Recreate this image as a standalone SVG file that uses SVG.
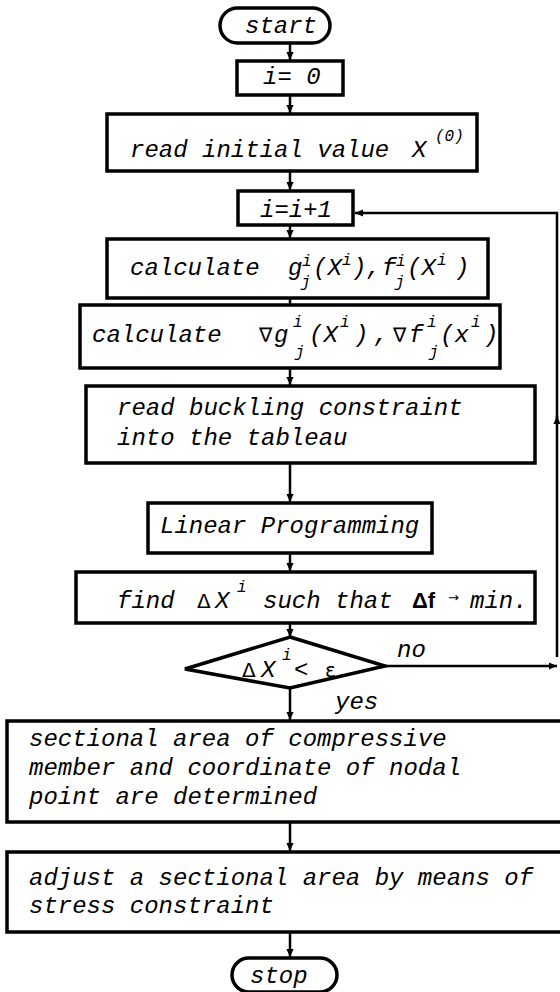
<svg xmlns="http://www.w3.org/2000/svg" width="560" height="992" viewBox="0 0 560 992">
<style>
.b{fill:#fff;stroke:#000;stroke-width:3.5}
.c{fill:none;stroke:#000;stroke-width:2.5}
.t{font-family:"Liberation Mono","DejaVu Sans Mono",monospace;font-style:italic;font-size:24px;fill:#000}
.s{font-family:"Liberation Mono","DejaVu Sans Mono",monospace;font-style:italic;font-size:16px;fill:#000}
.u{font-family:"DejaVu Sans","Liberation Sans",sans-serif;font-size:20px;fill:#000}
.bf{font-family:"Liberation Sans",sans-serif;font-weight:bold;font-size:22px;fill:#000}
</style>
<defs>
<marker id="ah" viewBox="0 0 10 10" refX="10" refY="5" markerWidth="9" markerHeight="8" markerUnits="userSpaceOnUse" orient="auto"><path d="M0,0.5 L10,5 L0,9.5 z" fill="#000"/></marker>
</defs>
<g id="connectors">
<path class="c" d="M290,43 V60" marker-end="url(#ah)"/>
<path class="c" d="M290,95 V113" marker-end="url(#ah)"/>
<path class="c" d="M290,171 V190" marker-end="url(#ah)"/>
<path class="c" d="M290,225 V238" marker-end="url(#ah)"/>
<path class="c" d="M290,298 V305"/>
<path class="c" d="M290,368 V385" marker-end="url(#ah)"/>
<path class="c" d="M290,463 V502" marker-end="url(#ah)"/>
<path class="c" d="M290,553 V571" marker-end="url(#ah)"/>
<path class="c" d="M290,623 V637" marker-end="url(#ah)"/>
<path class="c" d="M290,688 V720" marker-end="url(#ah)"/>
<path class="c" d="M290,822 V851" marker-end="url(#ah)"/>
<path class="c" d="M290,932 V957" marker-end="url(#ah)"/>
<path class="c" d="M385,666 H557" marker-end="url(#ah)"/>
<path class="c" d="M557,657 V416" marker-end="url(#ah)"/>
<path class="c" d="M557,420 V213 H355" marker-end="url(#ah)"/>
</g>
<g id="start">
<rect class="b" x="220" y="8" width="110" height="35" rx="17.5"/>
<text class="t" x="245" y="33">start</text>
</g>
<g id="init">
<rect class="b" x="237" y="61" width="106" height="34"/>
<text class="t" x="263" y="84">i= 0</text>
</g>
<g id="read-initial">
<rect class="b" x="107" y="114" width="370" height="57"/>
<text class="t" x="130" y="157">read initial value</text>
<text class="t" x="412" y="157">X</text>
<text class="s" x="435" y="141">(0)</text>
</g>
<g id="increment">
<rect class="b" x="238" y="191" width="115" height="34"/>
<text class="t" x="260" y="217">i=i+1</text>
</g>
<g id="calc-g">
<rect class="b" x="107" y="239" width="381" height="59"/>
<text class="t" x="130" y="275">calculate</text>
<text class="t" x="288" y="275">g</text>
<text class="s" x="302" y="266">i</text>
<text class="s" x="301" y="287">j</text>
<text class="t" x="313" y="275">(X</text>
<text class="s" x="342" y="265">i</text>
<text class="t" x="352" y="275">),</text>
<text class="t" x="382" y="275">f</text>
<text class="s" x="396" y="266">i</text>
<text class="s" x="395" y="287">j</text>
<text class="t" x="407" y="275">(X</text>
<text class="s" x="437" y="265">i</text>
<text class="t" x="455" y="275">)</text>
</g>
<g id="calc-grad">
<rect class="b" x="80" y="305" width="420" height="63"/>
<text class="t" x="92" y="342">calculate</text>
<text class="u" x="259" y="342">∇</text>
<text class="t" x="274" y="342">g</text>
<text class="s" x="293" y="327">i</text>
<text class="s" x="295" y="357">j</text>
<text class="t" x="309" y="342">(X</text>
<text class="s" x="340" y="327">i</text>
<text class="t" x="354" y="342">)</text>
<text class="t" x="374" y="342">,</text>
<text class="u" x="393" y="342">∇</text>
<text class="t" x="409" y="342">f</text>
<text class="s" x="427" y="327">i</text>
<text class="s" x="429" y="357">j</text>
<text class="t" x="440" y="342">(x</text>
<text class="s" x="471" y="327">i</text>
<text class="t" x="484" y="342">)</text>
</g>
<g id="buckling">
<rect class="b" x="86" y="386" width="449" height="77"/>
<text class="t" x="117" y="415">read buckling constraint</text>
<text class="t" x="117" y="445">into the tableau</text>
</g>
<g id="lp">
<rect class="b" x="148" y="503" width="284" height="50"/>
<text class="t" x="160" y="533">Linear Programming</text>
</g>
<g id="find">
<rect class="b" x="76" y="572" width="459" height="51"/>
<text class="t" x="117" y="608">find</text>
<text class="u" x="197" y="608">Δ</text>
<text class="t" x="215" y="608">X</text>
<text class="s" x="237" y="592">i</text>
<text class="t" x="263" y="608">such that</text>
<text class="bf" x="412" y="608">Δf</text>
<text class="u" x="448" y="602" style="font-size:13px">→</text>
<text class="t" x="470" y="608">min.</text>
</g>
<g id="decision">
<polygon class="b" points="290,637 385,666 290,688 185,669"/>
<text class="u" x="242" y="677">Δ</text>
<text class="t" x="261" y="677">X</text>
<text class="s" x="282" y="660">i</text>
<text class="t" x="294" y="677">&lt;</text>
<text class="u" x="325" y="677">ε</text>
<text class="t" x="397" y="657">no</text>
<text class="t" x="335" y="709">yes</text>
</g>
<g id="sectional">
<rect class="b" x="7" y="721" width="560" height="101"/>
<text class="t" x="29" y="746">sectional area of compressive</text>
<text class="t" x="29" y="775">member and coordinate of nodal</text>
<text class="t" x="29" y="804">point are determined</text>
</g>
<g id="adjust">
<rect class="b" x="7" y="852" width="560" height="80"/>
<text class="t" x="29" y="885">adjust a sectional area by means of</text>
<text class="t" x="29" y="913">stress constraint</text>
</g>
<g id="stop">
<rect class="b" x="232" y="958" width="105" height="34" rx="17"/>
<text class="t" x="250" y="983">stop</text>
</g>
</svg>
